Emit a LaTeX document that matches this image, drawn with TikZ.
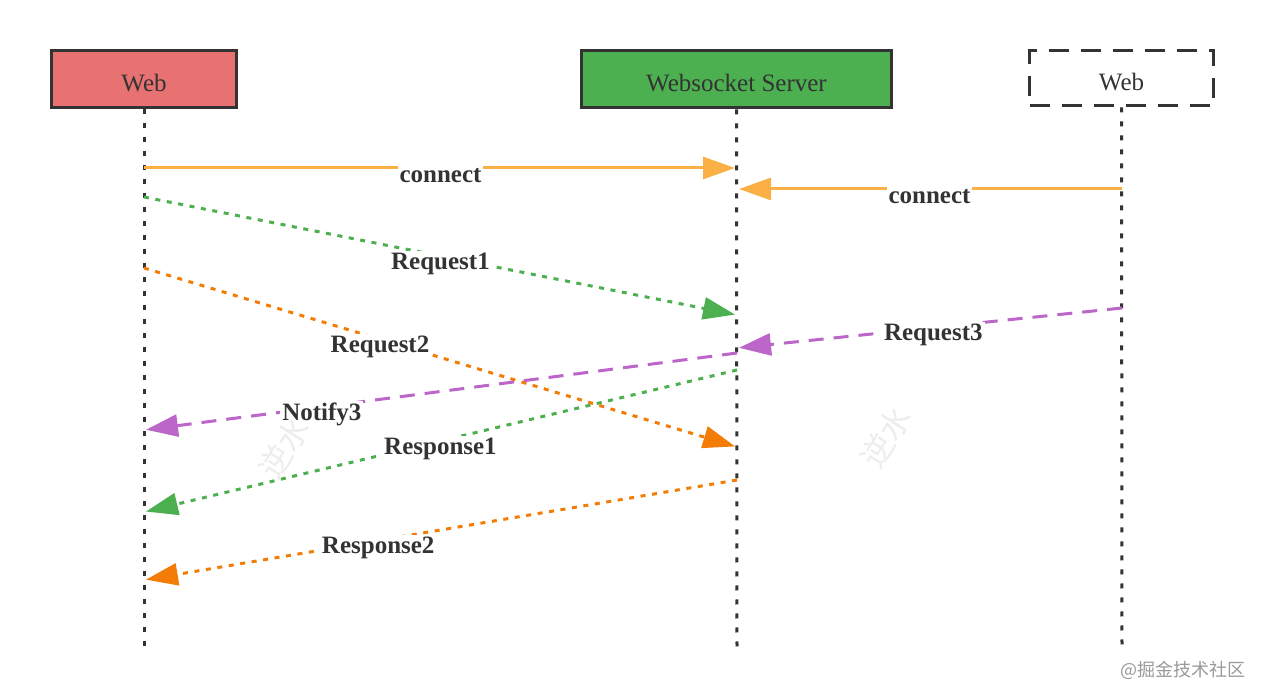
\documentclass[tikz,border=0pt]{standalone}
\usepackage{fontspec}
\setmainfont{Liberation Serif}
\newfontfamily\cjk{Noto Sans CJK SC}
\usetikzlibrary{arrows.meta}
\definecolor{txt}{HTML}{333333}
\definecolor{webred}{HTML}{E87271}
\definecolor{srvgreen}{HTML}{4CAF50}
\definecolor{conorange}{HTML}{FBB045}
\definecolor{reqorange}{HTML}{F27C06}
\definecolor{arrgreen}{HTML}{4CAF50}
\definecolor{purp}{HTML}{BB66C8}
\newcommand{\hdtext}[1]{\raisebox{-5.9pt}[0pt][0pt]{#1}}
\tikzset{
  box/.style={draw=txt, line width=1.5pt, minimum height=28.5pt, text=txt,
    font=\fontsize{12.5}{15}\selectfont, inner sep=0pt},
  lifeline/.style={draw=txt, line width=1.5pt, dash pattern=on 2.5pt off 4.5pt},
  msg/.style={line width=1.5pt, -{Triangle[length=16pt,width=11pt]}, shorten >=1pt},
  solidmsg/.style={msg},
  dotmsg/.style={msg, dash pattern=on 2.5pt off 3.3pt},
  dashmsg/.style={msg, dash pattern=on 7.5pt off 5pt},
  lbl/.style={fill=white, inner sep=1pt, text=txt, font=\bfseries\fontsize{12.5}{15}\selectfont, yshift=-3.8pt},
  wmark/.style={text=black!7, font=\cjk\fontsize{16}{18}\selectfont, rotate=58}
}
\begin{document}
\begin{tikzpicture}[x=0.5pt,y=-0.5pt]
\useasboundingbox (0,0) rectangle (1266,700);
% headers
\node[box, fill=webred, minimum width=92.5pt] (webL) at (144,79.5) {\hdtext{Web}};
\node[box, fill=srvgreen, minimum width=155pt] (srv) at (736.5,79.5) {\hdtext{Websocket Server}};
\node[box, fill=white, dash pattern=on 10pt off 6pt, minimum width=92pt, minimum height=27.5pt] (webR) at (1121.5,78.5) {\hdtext{Web}};
% lifeline ends
\coordinate (endL) at (144,648);
\coordinate (endS) at (737,648);
\coordinate (endR) at (1122,648);
\draw[lifeline] (webL.south) -- (endL);
\draw[lifeline] (srv.south) -- (endS);
\draw[lifeline] (webR.south) -- (endR);
% message anchor points
\coordinate (L1) at (144,168);  \coordinate (S1) at (737,168);
\coordinate (R2) at (1122,189); \coordinate (S2) at (737,189);
\coordinate (L3) at (144,197);  \coordinate (S3) at (737,315);
\coordinate (L4) at (144,268);  \coordinate (S4) at (737,447);
\coordinate (R5) at (1122,308); \coordinate (S5) at (737,348);
\coordinate (S6) at (737,353);  \coordinate (L6) at (144,430);
\coordinate (S7) at (737,370);  \coordinate (L7) at (144,512);
\coordinate (S8) at (737,480);  \coordinate (L8) at (144,580);
% messages
\draw[solidmsg, draw=conorange, color=conorange] (L1) -- node[lbl, pos=0.5] (m1) {connect} (S1);
\draw[solidmsg, draw=conorange, color=conorange] (R2) -- node[lbl, pos=0.5] (m2) {connect} (S2);
\draw[dotmsg, draw=arrgreen, color=arrgreen] (L3) -- node[lbl, pos=0.5] (m3) {Request1} (S3);
\draw[dotmsg, draw=reqorange, color=reqorange] (L4) -- node[lbl, pos=0.398] (m4) {Request2} (S4);
\draw[dashmsg, draw=purp, color=purp] (R5) -- node[lbl, pos=0.49] (m5) {Request3} (S5);
\draw[dashmsg, draw=purp, color=purp] (S6) -- node[lbl, pos=0.70] (m6) {Notify3} (L6);
\draw[dotmsg, draw=arrgreen, color=arrgreen] (S7) -- node[lbl, pos=0.5] (m7) {Response1} (L7);
\draw[dotmsg, draw=reqorange, color=reqorange] (S8) -- node[lbl, pos=0.605] (m8) {Response2} (L8);
% watermarks
\node[wmark] (w1) at (284,448) {逆水};
\node[wmark] (w2) at (886,437) {逆水};
\node[text=black!40, font=\cjk\fontsize{9}{11}\selectfont] (credit) at (1183,670) {@掘金技术社区};
\end{tikzpicture}
\end{document}
